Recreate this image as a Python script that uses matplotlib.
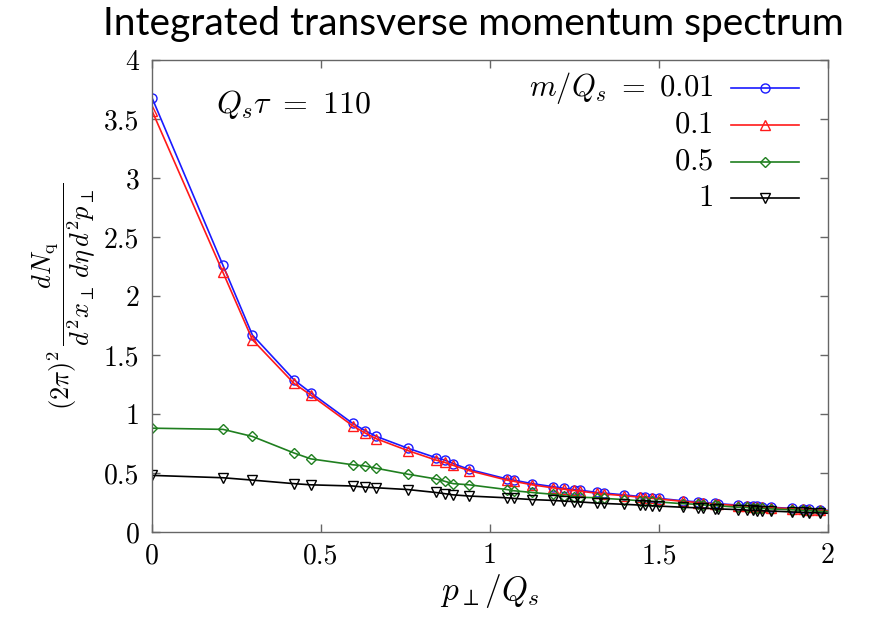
import matplotlib
matplotlib.use('Agg')
import matplotlib.pyplot as plt

plt.rcParams['font.family'] = 'serif'
plt.rcParams['font.serif'] = ['cmr10', 'DejaVu Serif']
plt.rcParams['mathtext.fontset'] = 'cm'
plt.rcParams['axes.formatter.use_mathtext'] = True

# p_perp / Q_s
p = [0, 0.21, 0.297, 0.42, 0.47, 0.594, 0.63, 0.664, 0.757, 0.84, 0.866, 0.891, 0.939,
     1.05, 1.07, 1.125, 1.185, 1.22, 1.248, 1.265, 1.318, 1.338, 1.397,
     1.445, 1.458, 1.48, 1.50, 1.57, 1.615, 1.63, 1.665, 1.675, 1.735,
     1.76, 1.778, 1.79, 1.805, 1.83, 1.895, 1.925, 1.945, 1.975, 2.02]

# spectra for each m/Q_s
m001 = [3.68, 2.26, 1.67, 1.29, 1.18, 0.92, 0.86, 0.81, 0.71, 0.63, 0.61, 0.58, 0.53,
        0.45, 0.44, 0.41, 0.385, 0.37, 0.36, 0.355, 0.335, 0.33, 0.315,
        0.30, 0.298, 0.29, 0.285, 0.265, 0.255, 0.25, 0.243, 0.24, 0.228,
        0.224, 0.22, 0.217, 0.214, 0.21, 0.20, 0.195, 0.192, 0.187, 0.18]
m01 = [3.57, 2.20, 1.63, 1.26, 1.16, 0.90, 0.84, 0.79, 0.69, 0.61, 0.59, 0.565, 0.52,
       0.44, 0.43, 0.40, 0.375, 0.362, 0.352, 0.347, 0.328, 0.322, 0.308,
       0.295, 0.292, 0.285, 0.28, 0.26, 0.25, 0.246, 0.238, 0.235, 0.224,
       0.22, 0.216, 0.213, 0.21, 0.206, 0.197, 0.192, 0.189, 0.184, 0.177]
m05 = [0.88, 0.87, 0.81, 0.67, 0.62, 0.57, 0.56, 0.54, 0.49, 0.45, 0.43, 0.41, 0.40,
       0.36, 0.35, 0.335, 0.32, 0.305, 0.30, 0.295, 0.29, 0.285, 0.275,
       0.265, 0.262, 0.26, 0.255, 0.24, 0.235, 0.23, 0.225, 0.222, 0.21,
       0.208, 0.205, 0.202, 0.20, 0.196, 0.188, 0.184, 0.181, 0.176, 0.17]
m1 = [0.48, 0.46, 0.44, 0.41, 0.40, 0.39, 0.38, 0.375, 0.36, 0.335, 0.325, 0.315, 0.305,
      0.29, 0.285, 0.275, 0.268, 0.262, 0.258, 0.255, 0.245, 0.242, 0.235,
      0.228, 0.226, 0.222, 0.22, 0.21, 0.205, 0.202, 0.198, 0.196, 0.19,
      0.186, 0.184, 0.182, 0.18, 0.178, 0.17, 0.167, 0.165, 0.162, 0.157]

labels = [r'$m/Q_s\ =\ 0.01$', r'$0.1$', r'$0.5$', r'$1$']
colors = ['#1a1aff', '#ff1a1a', '#1f7f1f', '#000000']
markers = ['o', '^', 'D', 'v']
msizes = [6.5, 6.5, 5, 7]

xticks = [0, 0.5, 1, 1.5, 2]
xticklabels = ['0', '0.5', '1', '1.5', '2']
yticks = [0, 0.5, 1, 1.5, 2, 2.5, 3, 3.5, 4]
yticklabels = ['0', '0.5', '1', '1.5', '2', '2.5', '3', '3.5', '4']

fig = plt.figure(figsize=(8.71, 6.19), dpi=100)
ax = fig.add_axes([0.1745, 0.1405, 0.7761, 0.7626])

series = [m001, m01, m05, m1]
for ys, c, mk, ms in zip(series, colors, markers, msizes):
    ax.plot(p, ys, color=c, marker=mk, markersize=ms, markerfacecolor='none',
            markeredgewidth=1.0, linewidth=1.2, clip_on=True)

ax.set_xlim(0, 2)
ax.set_ylim(0, 4)
ax.set_xticks(xticks)
ax.set_xticklabels(xticklabels)
ax.set_yticks(yticks)
ax.set_yticklabels(yticklabels)
ax.tick_params(direction='in', length=6, width=1, color='#666666', labelsize=20,
               top=True, right=True)
ax.tick_params(axis='x', pad=8)
ax.tick_params(axis='y', pad=9)
for s in ax.spines.values():
    s.set_color('#666666')
    s.set_linewidth(1)

ax.set_xlabel(r'$p_{\perp}/Q_s$', fontsize=24, labelpad=2)
ax.set_ylabel(r'$(2\pi)^2\,\dfrac{dN_{\mathrm{q}}}{d^2x_{\perp}\,d\eta\, d^2p_{\perp}}$',
              fontsize=19, labelpad=4)

ax.text(0.095, 0.905, r'$Q_s\tau\ =\ 110$', transform=ax.transAxes, fontsize=23,
        ha='left', va='center')

# legend drawn by hand so the labels are right-aligned
leg_y = [0.941, 0.862, 0.784, 0.708]
for lab, c, mk, ms, yy in zip(labels, colors, markers, msizes, leg_y):
    ax.plot([0.8565, 0.957], [yy, yy], color=c, linewidth=1.2, transform=ax.transAxes)
    ax.plot([0.9068], [yy], color=c, marker=mk, markersize=ms, markerfacecolor='none',
            markeredgewidth=1.0, transform=ax.transAxes)
    ax.text(0.83, yy, lab, transform=ax.transAxes, fontsize=22, ha='right', va='center')

fig.text(0.543, 0.962, 'Integrated transverse momentum spectrum',
         family=['Lato', 'DejaVu Sans'], fontsize=28, ha='center', va='center')

fig.savefig('out.png', dpi=100)
